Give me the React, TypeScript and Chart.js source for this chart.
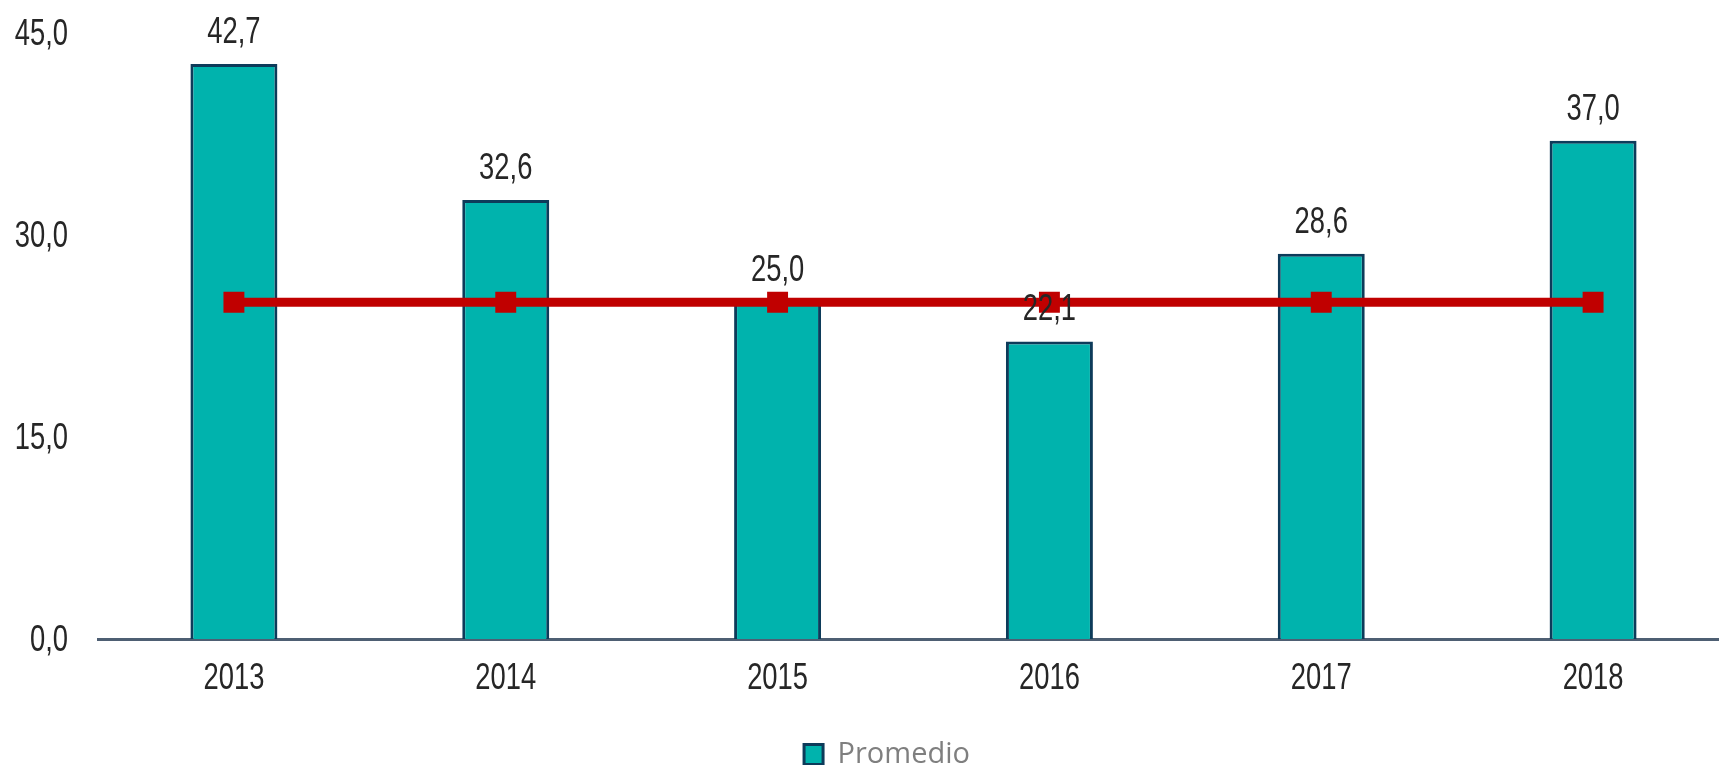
import React, { useEffect, useRef } from "react";
import { Chart, registerables } from "chart.js";

Chart.register(...registerables);

const years: string[] = ["2013", "2014", "2015", "2016", "2017", "2018"];
const promedio: number[] = [42.7, 32.6, 25.0, 22.1, 28.6, 37.0];
const referencia: number[] = [25.0, 25.0, 25.0, 25.0, 25.0, 25.0];
const yMin = 0;
const yMax = 45;
const yStep = 15;

const SX = 0.76;
const LABEL_FONT = '36px "Liberation Sans", Arial, sans-serif';
const TEXT_COLOR = "#262626";
const fmt = (v: number) => v.toFixed(1).replace(".", ",");

function condensed(ctx: CanvasRenderingContext2D, text: string, x: number, y: number, align: CanvasTextAlign) {
  ctx.save();
  ctx.translate(x, y);
  ctx.scale(SX, 1);
  ctx.textAlign = align;
  ctx.fillText(text, 0, 0);
  ctx.restore();
}

const textPlugin = {
  id: "textPlugin",
  afterDraw(chart: any) {
    const ctx: CanvasRenderingContext2D = chart.ctx;
    const xs = chart.scales.x;
    const ys = chart.scales.y;
    ctx.save();
    ctx.font = LABEL_FONT;
    ctx.fillStyle = TEXT_COLOR;
    ctx.textBaseline = "alphabetic";
    xs.ticks.forEach((_t: any, i: number) => {
      condensed(ctx, String(chart.data.labels[i]), xs.getPixelForTick(i), xs.top + 50, "center");
    });
    ys.ticks.forEach((t: any, i: number) => {
      condensed(ctx, fmt(Number(t.value)), ys.right - 30, ys.getPixelForTick(i) + 12, "right");
    });
    const meta = chart.getDatasetMeta(0);
    meta.data.forEach((el: any, i: number) => {
      const v = chart.data.datasets[0].data[i];
      condensed(ctx, fmt(v), el.x, el.y - 21, "center");
    });
    ctx.restore();
  },
};

export default function App() {
  const ref = useRef<HTMLCanvasElement>(null);
  useEffect(() => {
    document.body.style.margin = "0";
    const chart = new Chart(ref.current!, {
      type: "bar",
      data: {
        labels: years,
        datasets: [
          {
            type: "bar",
            label: "Promedio",
            data: promedio,
            backgroundColor: "#00B3AD",
            borderColor: "#0D3B5A",
            borderWidth: 3,
            borderSkipped: "bottom",
            categoryPercentage: 1,
            barPercentage: 0.32,
            order: 1,
          } as any,
          {
            type: "line",
            label: "Referencia",
            data: referencia,
            borderColor: "#C00000",
            backgroundColor: "#C00000",
            borderWidth: 9,
            pointStyle: "rect",
            pointRadius: 14.8,
            pointBackgroundColor: "#C00000",
            pointBorderWidth: 0,
            tension: 0,
            order: 0,
          } as any,
        ],
      },
      options: {
        responsive: false,
        animation: false,
        layout: { autoPadding: false, padding: { left: 45, right: 0, top: 33, bottom: 0 } },
        plugins: {
          tooltip: { enabled: false },
          legend: {
            position: "bottom",
            maxHeight: 25,
            labels: {
              padding: 0,
              boxWidth: 19,
              boxHeight: 20,
              color: "#7F7F7F",
              font: { family: '"Open Sans", sans-serif', size: 29 },
              filter: (item: any) => item.datasetIndex === 0,
            },
          } as any,
        },
        scales: {
          x: {
            grid: { display: false, drawTicks: false },
            border: { display: true, color: "#4E5F73", width: 3 },
            ticks: { display: false },
            afterFit: (s: any) => {
              s.height = 101;
            },
          },
          y: {
            min: yMin,
            max: yMax,
            grid: { display: false, drawTicks: false },
            border: { display: false },
            ticks: { display: false, stepSize: yStep },
            afterFit: (s: any) => {
              s.width = 53;
            },
          },
        },
      },
      plugins: [textPlugin],
    });
    return () => chart.destroy();
  }, []);
  return (
    <div style={{ width: 1719, height: 765, overflow: "hidden", position: "relative" }}>
      <canvas ref={ref} width={1729} height={765} style={{ display: "block" }} />
    </div>
  );
}
